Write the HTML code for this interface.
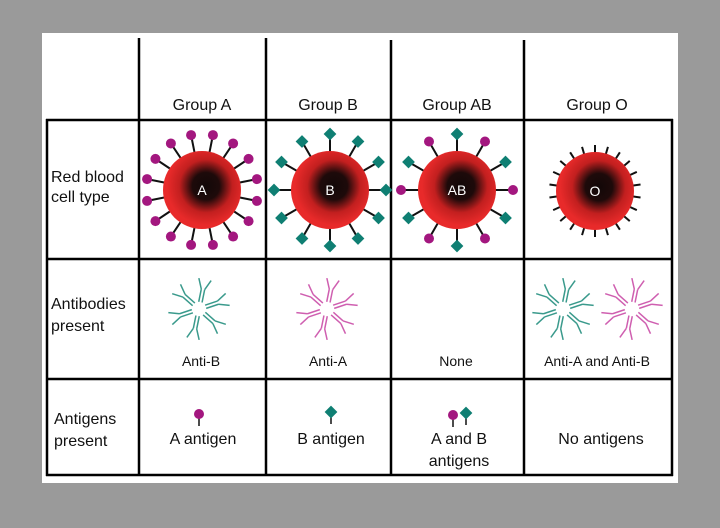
<!DOCTYPE html>
<html><head><meta charset="utf-8"><style>
html,body{margin:0;padding:0;background:#9a9a9a;width:720px;height:528px;overflow:hidden}
svg{position:absolute;left:0;top:0}
text{font-family:"Liberation Sans",sans-serif;fill:#111}
</style></head><body>
<svg id="s" width="720" height="528" viewBox="0 0 720 528" xmlns="http://www.w3.org/2000/svg">
<defs>
<radialGradient id="rbc" cx="0.55" cy="0.45" r="0.5">
<stop offset="0" stop-color="#120808"/><stop offset="0.35" stop-color="#1e0a0a"/><stop offset="0.68" stop-color="#c21f1f"/><stop offset="1" stop-color="#e82a2a"/>
</radialGradient>
</defs>
<rect x="42" y="33" width="636" height="450" fill="#fff"/>
<g stroke="#000" stroke-width="2.5" fill="none">
<line x1="139" y1="38" x2="139" y2="476"/>
<line x1="266" y1="38" x2="266" y2="476"/>
<line x1="391" y1="40" x2="391" y2="476"/>
<line x1="524" y1="40" x2="524" y2="476"/>
<line x1="672" y1="119" x2="672" y2="476"/>
<line x1="47" y1="119" x2="47" y2="476"/>
<line x1="46" y1="120" x2="673" y2="120"/>
<line x1="46" y1="259" x2="673" y2="259"/>
<line x1="46" y1="379" x2="673" y2="379"/>
<line x1="46" y1="475" x2="673" y2="475"/>
</g>
<g font-size="16" text-anchor="middle">
<text x="202" y="110">Group A</text>
<text x="328" y="110">Group B</text>
<text x="457" y="110">Group AB</text>
<text x="597" y="110">Group O</text>
</g>
<g font-size="16">
<text x="51" y="182">Red blood</text>
<text x="51" y="202">cell type</text>
<text x="51" y="309">Antibodies</text>
<text x="51" y="331">present</text>
<text x="54" y="424">Antigens</text>
<text x="54" y="446">present</text>
</g>
<g font-size="14" text-anchor="middle">
<text x="201" y="366">Anti-B</text>
<text x="328" y="366">Anti-A</text>
<text x="456" y="366">None</text>
<text x="597" y="366">Anti-A and Anti-B</text>
</g>
<g font-size="16" text-anchor="middle">
<text x="203" y="444">A antigen</text>
<text x="331" y="444">B antigen</text>
<text x="459" y="444">A and B</text>
<text x="459" y="466">antigens</text>
<text x="601" y="444">No antigens</text>
</g>
<g id="dyn"></g>
</svg>
<script>
var NS="http://www.w3.org/2000/svg",g=document.getElementById("dyn");
function el(t,a){var e=document.createElementNS(NS,t);for(var k in a)e.setAttribute(k,a[k]);g.appendChild(e);return e;}
var P="#a3177f",T="#0f7f73";
function knob(x,y,type){ if(type=="a")el("circle",{cx:x,cy:y,r:5,fill:P});
 else el("rect",{x:x-4.5,y:y-4.5,width:9,height:9,fill:T,transform:"rotate(45 "+x+" "+y+")"});}
function cell(cx,cy,n,types,off,lab){
 for(var i=0;i<n;i++){var a=(i/n)*2*Math.PI+off;var c=Math.cos(a),s=Math.sin(a);
  var t=types[i%types.length];
  if(t=="o"){el("line",{x1:cx+c*37,y1:cy+s*37,x2:cx+c*46,y2:cy+s*46,stroke:"#111","stroke-width":2});}
  else{el("line",{x1:cx+c*36,y1:cy+s*36,x2:cx+c*52,y2:cy+s*52,stroke:"#111","stroke-width":2});knob(cx+c*56,cy+s*56,t);}
 }
 el("circle",{cx:cx,cy:cy,r:39,fill:"url(#rbc)"});
 var tx=el("text",{x:cx,y:cy+5,"text-anchor":"middle","font-size":14,style:"fill:#fff"});tx.textContent=lab;
}
cell(202,190,16,["a"],-Math.PI/2+Math.PI/16,"A");
cell(330,190,12,["b"],-Math.PI/2,"B");
cell(457,190,12,["b","a"],-Math.PI/2,"AB");
cell(595,191,22,["o"],-Math.PI/2,"O");
function ab(cx,cy,col){
 for(var i=0;i<6;i++){var a=i/6*2*Math.PI-Math.PI/2+0.2;var c=Math.cos(a),s=Math.sin(a),px=-s,py=c;
  for(var d=-1;d<=1;d+=2){el("line",{x1:cx+c*7+px*d*1.7,y1:cy+s*7+py*d*1.7,x2:cx+c*20+px*d*1.7,y2:cy+s*20+py*d*1.7,stroke:col,"stroke-width":1.5});
   var b=a+d*0.55;el("line",{x1:cx+c*20+px*d*1.7,y1:cy+s*20+py*d*1.7,x2:cx+c*20+Math.cos(b)*12,y2:cy+s*20+Math.sin(b)*12,stroke:col,"stroke-width":1.5});}
 }}
var TE="#3a9a8c",PI="#cf5fb0";
ab(199,309,TE);ab(327,309,PI);ab(563,309,TE);ab(632,309,PI);
function pin(x,y,t){el("line",{x1:x,y1:y,x2:x,y2:y+12,stroke:"#111","stroke-width":1.5});knob(x,y,t);}
pin(199,414,"a");pin(331,412,"b");pin(453,415,"a");pin(466,413,"b");
</script>
</body></html>
